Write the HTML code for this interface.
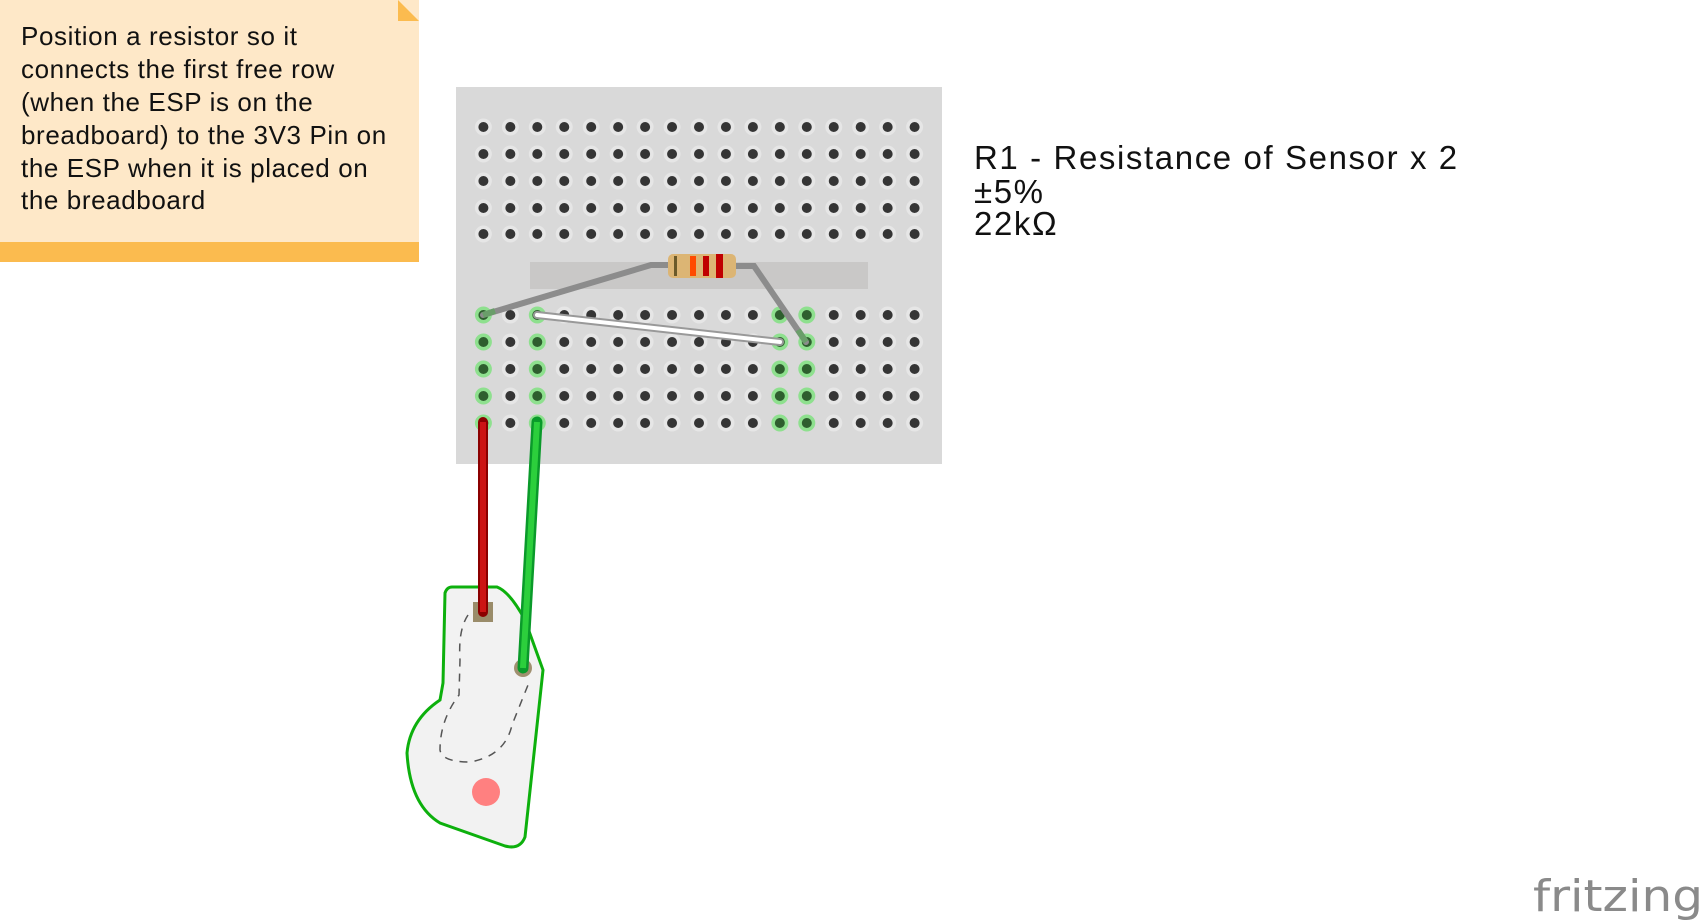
<!DOCTYPE html>
<html><head><meta charset="utf-8"><style>
html,body{margin:0;padding:0;background:#fff;width:1707px;height:924px;overflow:hidden}
svg{position:absolute;left:0;top:0}
</style></head><body>
<svg id="s" width="1707" height="924" xmlns="http://www.w3.org/2000/svg">
  <g>
    <rect x="0" y="0" width="419" height="262" fill="#fee8c8"/>
    <rect x="0" y="242" width="419" height="20" fill="#fbbb4f"/>
    <polygon points="398,0 419,21 398,21" fill="#fbbb4f"/>
    <text font-family="'Liberation Sans',sans-serif" font-size="26" fill="#111" letter-spacing="0.6">
      <tspan x="21" y="45">Position a resistor so it</tspan>
      <tspan x="21" y="78">connects the first free row</tspan>
      <tspan x="21" y="111">(when the ESP is on the</tspan>
      <tspan x="21" y="144">breadboard) to the 3V3 Pin on</tspan>
      <tspan x="21" y="177">the ESP when it is placed on</tspan>
      <tspan x="21" y="209">the breadboard</tspan>
    </text>
  </g>
  <rect x="456" y="87" width="486" height="377" fill="#d9d9d9"/>
  <rect x="530" y="262" width="338" height="27" fill="#c9c8c7"/>
  <g id="holes"></g>
  <g>
    <polyline points="483,315 651,265 668,265" fill="none" stroke="#8c8c8c" stroke-width="6" stroke-linecap="round"/>
    <polyline points="736,266 754,266 806,342" fill="none" stroke="#8c8c8c" stroke-width="6" stroke-linecap="round"/>
    <line x1="483" y1="315" x2="495" y2="311" stroke="#6a9e6a" stroke-width="6"/>
    <line x1="806" y1="342" x2="798" y2="330" stroke="#6a9e6a" stroke-width="6"/>
    <rect x="668" y="254" width="68" height="24" rx="5" fill="#dcb574"/>
    <rect x="674" y="256" width="3" height="20" fill="#6b5a2a"/>
    <rect x="690" y="256" width="6" height="20" fill="#ff4a00"/>
    <rect x="703" y="256" width="6" height="20" fill="#c00000"/>
    <rect x="716" y="254" width="7" height="24" fill="#c00000"/>
  </g>
  <g>
    <line x1="537" y1="315" x2="780" y2="342" stroke="#999" stroke-width="8" stroke-linecap="round"/>
    <line x1="537" y1="315" x2="780" y2="342" stroke="#fff" stroke-width="4" stroke-linecap="round"/>
  </g>
  <g>
    <path d="M452,587 L497,587 Q510,592 525,620 L543,670 L525,837 Q520,850 505,846 L440,823 Q410,805 407,753 Q410,720 440,700 L443,683 L445,593 Q447,587 452,587 Z" fill="#f2f2f2" stroke="#0db00d" stroke-width="3"/>
    <path d="M468,615 Q458,630 460,660 L459,695 Q440,720 440,750 Q442,762 470,762 Q505,756 512,725 L528,685" fill="none" stroke="#555" stroke-width="1.5" stroke-dasharray="8,7"/>
    <circle cx="486" cy="792" r="14" fill="#ff8080"/>
    <rect x="473" y="602" width="20" height="20" fill="#9a8c6a"/>
    <circle cx="523" cy="668" r="9" fill="#a09070"/>
  </g>
  <g>
    <line x1="483" y1="422" x2="483" y2="612" stroke="#8b0000" stroke-width="10" stroke-linecap="round"/>
    <line x1="483" y1="422" x2="483" y2="612" stroke="#cc1414" stroke-width="6"/>
  </g>
  <g>
    <line x1="537" y1="422" x2="523" y2="668" stroke="#0a9a2a" stroke-width="11" stroke-linecap="round"/>
    <line x1="537" y1="422" x2="523" y2="668" stroke="#2ccf3c" stroke-width="6"/>
  </g>
  <text font-family="'Liberation Sans',sans-serif" font-size="33" fill="#111" letter-spacing="1.6">
    <tspan x="974" y="169">R1 - Resistance of Sensor x 2</tspan>
    <tspan x="974" y="203">±5%</tspan>
    <tspan x="974" y="235">22kΩ</tspan>
  </text>
  <text x="1533" y="911" font-family="'DejaVu Sans','Liberation Sans',sans-serif" font-size="44" fill="#8a8a8a" textLength="170" lengthAdjust="spacingAndGlyphs">fritzing</text>
</svg>
<script>
const rowsY=[127,154,181,208,234,315,342,369,396,423];
const colCount=17;
const greenCols=[0,2,11,12];
const g=document.getElementById('holes');
const NS='http://www.w3.org/2000/svg';
for(let r=0;r<rowsY.length;r++){
  for(let c=0;c<colCount;c++){
    const x=483.4+c*26.95, y=rowsY[r];
    const lower=r>=5;
    const green=lower&&greenCols.includes(c);
    const o=document.createElementNS(NS,'circle');
    o.setAttribute('cx',x);o.setAttribute('cy',y);o.setAttribute('r',8.5);
    o.setAttribute('fill',green?'#8ee08e':'#e6e6e6');
    
    
    g.appendChild(o);
    const h=document.createElementNS(NS,'circle');
    h.setAttribute('cx',x);h.setAttribute('cy',y);h.setAttribute('r',5);
    h.setAttribute('fill',green?'#2e5e2e':'#353535');
    
    
    g.appendChild(h);
  }
}
</script>
</body></html>
